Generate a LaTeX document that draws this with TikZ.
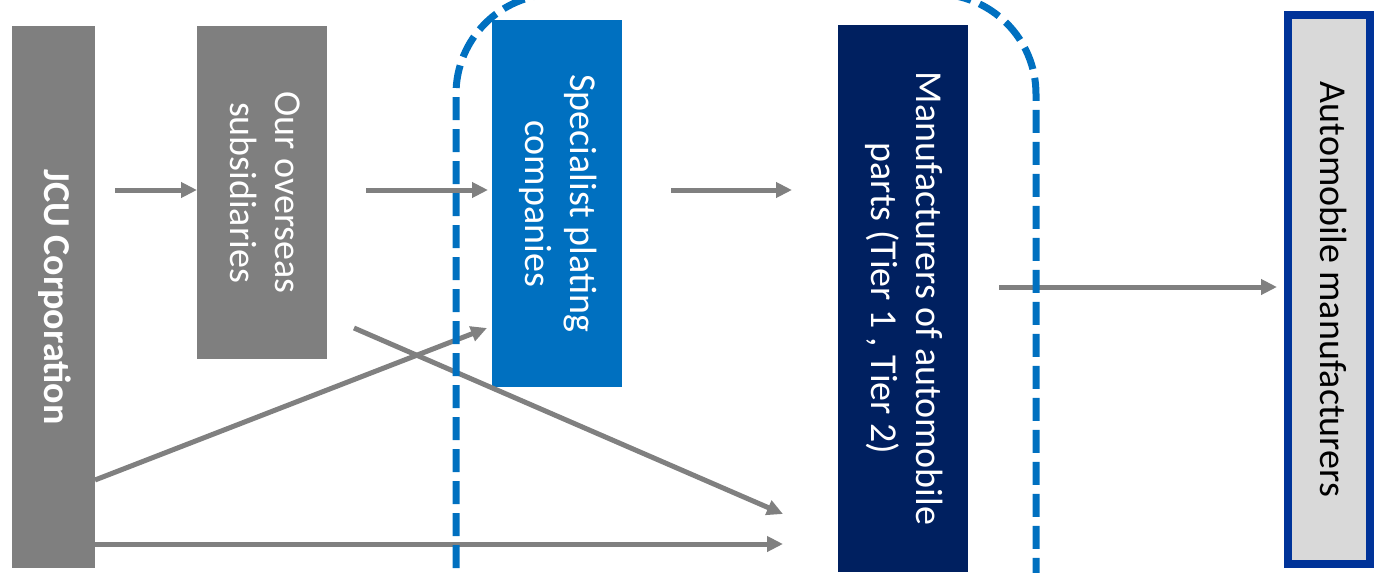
\documentclass[tikz,border=0pt]{standalone}
\usepackage{fontspec}
\setmainfont{Carlito}
\usepackage{graphicx}
\usetikzlibrary{arrows.meta}
\definecolor{boxgray}{HTML}{7F7F7F}
\definecolor{boxblue}{HTML}{0070C0}
\definecolor{boxnavy}{HTML}{002060}
\definecolor{boxlight}{HTML}{D9D9D9}
\definecolor{borderblue}{HTML}{003399}
\definecolor{arrowgray}{HTML}{808080}
\newcommand\vtext[1]{\rotatebox{-90}{\fontsize{38}{45}\selectfont\begin{tabular}{@{}c@{}}#1\end{tabular}}}
\begin{document}
\begin{tikzpicture}[x=1pt,y=-1pt,
  box/.style={rectangle, inner sep=0pt, outer sep=0pt, text=white},
  conn/.style={draw=arrowgray, line width=5pt, -{Triangle[length=16pt,width=15pt]}},
  zone/.style={draw=boxblue, line width=7pt, dash pattern=on 23pt off 9pt, rounded corners=100pt}]
\useasboundingbox (0,0) rectangle (1374,573);
\node[box, fill=boxgray, minimum width=83pt, minimum height=542pt] (jcu) at (53.5,297) {\vtext{\bfseries JCU Corporation}};
\node[box, fill=boxgray, minimum width=130pt, minimum height=333pt] (sub) at (262,192.5) {\vtext{Our overseas\\subsidiaries}};
\node[box, fill=boxblue, minimum width=130pt, minimum height=367pt] (plat) at (557,203.5) {\vtext{Specialist plating\\companies}};
\node[box, fill=boxnavy, minimum width=130pt, minimum height=547pt] (tier) at (903,298.5) {\vtext{Manufacturers of automobile\\parts (Tier 1 , Tier 2)}};
\node[box, fill=boxlight, draw=borderblue, line width=8pt, text=black, minimum width=82pt, minimum height=549pt] (auto) at (1329,289.5) {\vtext{Automobile manufacturers}};
\coordinate (a1s) at (115,190);
\coordinate (a2s) at (366,190);
\coordinate (a2e) at (488,190);
\coordinate (a3s) at (671,190);
\coordinate (a3e) at (792,190);
\coordinate (a4s) at (999,287);
\coordinate (a4e) at (1277,287);
\coordinate (a5e) at (487,328);
\coordinate (a6s) at (354,328);
\coordinate (a6e) at (783,514);
\coordinate (a7e) at (783,544);
\draw[conn] (a1s) -- (a1s -| sub.west);
\draw[conn] (a2s) -- (a2e);
\draw[conn] (a3s) -- (a3e);
\draw[conn] (a4s) -- (a4e);
\draw[conn] (jcu.east |- 0,480) -- (a5e);
\draw[conn] (a6s) -- (a6e);
\draw[conn] (jcu.east |- 0,544) -- (a7e);
\draw[zone] (456,600) -- (456,-6) -- (1036,-6) -- (1036,600);
\end{tikzpicture}
\end{document}
